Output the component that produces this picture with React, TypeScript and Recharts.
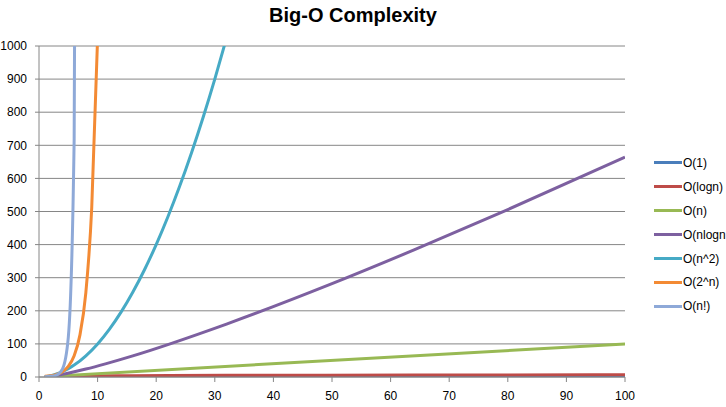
import React from "react";
import { LineChart, Line, XAxis, YAxis, CartesianGrid, Legend } from "recharts";

const xTicks = [0, 10, 20, 30, 40, 50, 60, 70, 80, 90, 100];
const yTicks = [0, 100, 200, 300, 400, 500, 600, 700, 800, 900, 1000];

const constantData = [
  { n: 1, y: 1 },
  { n: 100, y: 1 },
];
const logData = [
  { n: 1, y: 0 },
  { n: 2, y: 1 },
  { n: 4, y: 2 },
  { n: 8, y: 3 },
  { n: 16, y: 4 },
  { n: 32, y: 5 },
  { n: 64, y: 6 },
  { n: 100, y: 6.64 },
];
const linearData = [
  { n: 1, y: 1 },
  { n: 100, y: 100 },
];
const nlognData = [
  { n: 1, y: 0 },
  { n: 2, y: 2 },
  { n: 4, y: 8 },
  { n: 8, y: 24 },
  { n: 16, y: 64 },
  { n: 32, y: 160 },
  { n: 50, y: 282 },
  { n: 64, y: 384 },
  { n: 80, y: 506 },
  { n: 100, y: 664 },
];
const squareData = [
  { n: 1, y: 1 },
  { n: 2, y: 4 },
  { n: 3, y: 9 },
  { n: 4, y: 16 },
  { n: 5, y: 25 },
  { n: 6, y: 36 },
  { n: 8, y: 64 },
  { n: 10, y: 100 },
  { n: 12, y: 144 },
  { n: 14, y: 196 },
  { n: 16, y: 256 },
  { n: 18, y: 324 },
  { n: 20, y: 400 },
  { n: 22, y: 484 },
  { n: 24, y: 576 },
  { n: 26, y: 676 },
  { n: 28, y: 784 },
  { n: 30, y: 900 },
  { n: 32, y: 1024 },
];
const expData = [
  { n: 1, y: 2 },
  { n: 2, y: 4 },
  { n: 3, y: 8 },
  { n: 4, y: 16 },
  { n: 5, y: 32 },
  { n: 6, y: 64 },
  { n: 7, y: 128 },
  { n: 8, y: 256 },
  { n: 9, y: 512 },
  { n: 10, y: 1024 },
];
const factData = [
  { n: 1, y: 1 },
  { n: 2, y: 2 },
  { n: 3, y: 6 },
  { n: 4, y: 24 },
  { n: 5, y: 120 },
  { n: 6, y: 720 },
  { n: 7, y: 5040 },
];

const seriesNames = ["O(1)", "O(logn)", "O(n)", "O(nlogn", "O(n^2)", "O(2^n)", "O(n!)"];
const seriesColors = ["#4A7EBB", "#BE4B48", "#98B954", "#7D60A0", "#46AAC5", "#F38A34", "#8EA9D8"];
const seriesData = [constantData, logData, linearData, nlognData, squareData, expData, factData];

const FONT = "'Liberation Sans', Arial, sans-serif";
const GRAY = "#868686";

const LegendContent = () => (
  <div style={{ fontFamily: FONT, fontSize: 12, color: "#000" }}>
    {seriesNames.map((name, i) => (
      <div key={name} style={{ display: "flex", alignItems: "center", height: 23.9, whiteSpace: "nowrap" }}>
        <div style={{ width: 28, height: 3, background: seriesColors[i], marginRight: 1 }} />
        <span>{name}</span>
      </div>
    ))}
  </div>
);

export default function App() {
  return (
    <div style={{ position: "absolute", left: 0, top: 0, width: 726, height: 407, background: "#fff", overflow: "hidden" }}>
      <svg width={726} height={40} style={{ position: "absolute", left: 0, top: 0 }}>
        <text x={353} y={22} textAnchor="middle" fontFamily={FONT} fontWeight="bold" fontSize={20} fill="#000">
          Big-O Complexity
        </text>
      </svg>
      <LineChart width={726} height={407} margin={{ top: 46, right: 101, bottom: 0, left: 0 }}>
        <CartesianGrid vertical={false} stroke={GRAY} strokeWidth={1} />
        <XAxis
          type="number"
          dataKey="n"
          domain={[0, 100]}
          ticks={xTicks}
          allowDataOverflow
          height={30}
          tickSize={5}
          tickMargin={9}
          stroke={GRAY}
          tick={{ fill: "#000", fontSize: 12, fontFamily: FONT }}
        />
        <YAxis
          type="number"
          domain={[0, 1000]}
          ticks={yTicks}
          allowDataOverflow
          width={39}
          tickSize={4}
          tickMargin={8}
          stroke={GRAY}
          tick={{ fill: "#000", fontSize: 12, fontFamily: FONT }}
        />
        <Legend
          layout="vertical"
          align="center"
          verticalAlign="middle"
          content={<LegendContent />}
          wrapperStyle={{ left: 654, top: 151, width: 80 }}
        />
        {seriesNames.map((name, i) => (
          <Line
            key={name}
            data={seriesData[i]}
            dataKey="y"
            name={name}
            type="monotone"
            stroke={seriesColors[i]}
            strokeWidth={3}
            dot={false}
            activeDot={false}
            isAnimationActive={false}
          />
        ))}
      </LineChart>
    </div>
  );
}
